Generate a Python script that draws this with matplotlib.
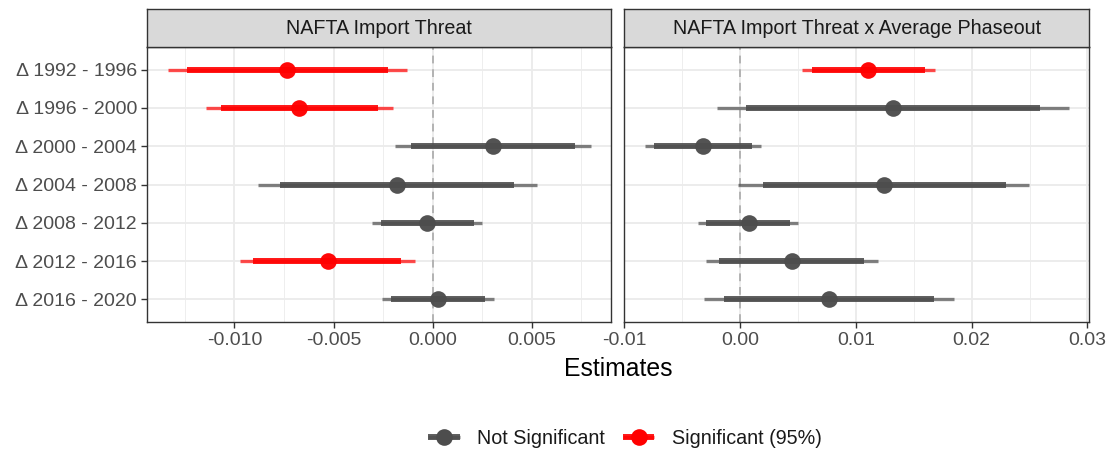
import matplotlib
matplotlib.use("Agg")
import matplotlib.pyplot as plt
from matplotlib.lines import Line2D
from matplotlib.legend_handler import HandlerTuple
import numpy as np

plt.rcParams['font.family'] = ['Liberation Sans', 'DejaVu Sans']

periods = ["Δ 1992 - 1996", "Δ 1996 - 2000", "Δ 2000 - 2004", "Δ 2004 - 2008",
           "Δ 2008 - 2012", "Δ 2012 - 2016", "Δ 2016 - 2020"]
panel_titles = ["NAFTA Import Threat", "NAFTA Import Threat x Average Phaseout"]

# NAFTA Import Threat
threat_est = [-0.00734, -0.00672, 0.00302, -0.00180, -0.00029, -0.00529, 0.00027]
threat_lo95 = [-0.01336, -0.01142, -0.00188, -0.00880, -0.00306, -0.00974, -0.00255]
threat_hi95 = [-0.00129, -0.00202, 0.00796, 0.00524, 0.00250, -0.00089, 0.00307]
threat_lo90 = [-0.01240, -0.01069, -0.00109, -0.00768, -0.00262, -0.00904, -0.00210]
threat_hi90 = [-0.00227, -0.00277, 0.00716, 0.00410, 0.00207, -0.00160, 0.00262]
threat_sig = [True, True, False, False, False, True, False]

# NAFTA Import Threat x Average Phaseout
phase_est = [0.01108, 0.01321, -0.00319, 0.01243, 0.00078, 0.00446, 0.00765]
phase_lo95 = [0.00535, -0.00196, -0.00817, -0.00020, -0.00360, -0.00296, -0.00308]
phase_hi95 = [0.01686, 0.02837, 0.00181, 0.02492, 0.00504, 0.01194, 0.01847]
phase_lo90 = [0.00624, 0.00052, -0.00740, 0.00199, -0.00291, -0.00178, -0.00135]
phase_hi90 = [0.01594, 0.02590, 0.00104, 0.02294, 0.00435, 0.01073, 0.01675]
phase_sig = [True, False, False, False, False, False, False]

legend_labels = ["Not Significant", "Significant (95%)"]

GREY = "#4D4D4D"
RED = "#FF0000"
BORDER = "#333333"
GRID = "#EBEBEB"
TICKTXT = "#4D4D4D"

W, H = 1109, 450
fig = plt.figure(figsize=(W / 100, H / 100), dpi=100)


def px_rect(x0, y0, x1, y1):
    return [x0 / W, 1 - y1 / H, (x1 - x0) / W, (y1 - y0) / H]


panels = [
    dict(rect=(146.7, 46.7, 611.0, 322.3),
         est=threat_est, lo95=threat_lo95, hi95=threat_hi95,
         lo90=threat_lo90, hi90=threat_hi90, sig=threat_sig,
         xlim=(-0.01442, 0.00899),
         major=[-0.010, -0.005, 0.000, 0.005],
         minor=[-0.0125, -0.0075, -0.0025, 0.0025, 0.0075],
         fmt="{:.3f}"),
    dict(rect=(624.3, 46.7, 1089.0, 322.3),
         est=phase_est, lo95=phase_lo95, hi95=phase_hi95,
         lo90=phase_lo90, hi90=phase_hi90, sig=phase_sig,
         xlim=(-0.00999, 0.03013),
         major=[-0.01, 0.00, 0.01, 0.02, 0.03],
         minor=[-0.005, 0.005, 0.015, 0.025],
         fmt="{:.2f}"),
]

ypos = np.arange(len(periods))

for i, p in enumerate(panels):
    x0, y0, x1, y1 = p["rect"]
    ax = fig.add_axes(px_rect(x0, y0, x1, y1))
    ax.set_xlim(*p["xlim"])
    ax.set_ylim(len(periods) - 0.4, -0.6)

    # grid
    for m in p["minor"]:
        ax.axvline(m, color=GRID, lw=0.6, zorder=0)
    for m in p["major"]:
        ax.axvline(m, color=GRID, lw=1.3, zorder=0)
    for y in ypos:
        ax.axhline(y, color=GRID, lw=1.3, zorder=0)
    ax.axvline(0, color="#B3B3B3", lw=1.4, ls=(0, (4, 3)), zorder=1)

    for y, e, l95, h95, l90, h90, s in zip(ypos, p["est"], p["lo95"], p["hi95"],
                                           p["lo90"], p["hi90"], p["sig"]):
        c = RED if s else GREY
        ax.plot([l95, h95], [y, y], color=c, lw=2.4, alpha=0.7,
                solid_capstyle="butt", zorder=2)
        ax.plot([l90, h90], [y, y], color=c, lw=4.3, alpha=0.9,
                solid_capstyle="butt", zorder=3)
        ax.plot([e], [y], marker="o", ms=12, color=c, mec="none",
                alpha=0.97, zorder=4)

    ax.set_xticks(p["major"])
    ax.set_xticklabels([p["fmt"].format(v) for v in p["major"]])
    ax.set_yticks(ypos)
    if i == 0:
        ax.set_yticklabels(periods)
    else:
        ax.set_yticklabels([])
    ax.tick_params(axis="both", colors=BORDER, labelcolor=TICKTXT,
                   labelsize=14, length=4, width=1.0, pad=3)
    if i == 1:
        ax.tick_params(axis="y", length=0)
    for sp in ax.spines.values():
        sp.set_color(BORDER)
        sp.set_linewidth(1.0)

    # facet strip
    sax = fig.add_axes(px_rect(x0, 9.0, x1, y0))
    sax.set_facecolor("#D9D9D9")
    sax.set_xticks([])
    sax.set_yticks([])
    for sp in sax.spines.values():
        sp.set_color(BORDER)
        sp.set_linewidth(1.0)
    sax.text(0.5, 0.47, panel_titles[i], ha="center", va="center",
             fontsize=14.2, color="#1A1A1A", transform=sax.transAxes)

fig.text(617.9 / W, 1 - 369 / H, "Estimates", ha="center", va="center",
         fontsize=17.8, color="black")

# legend
handles = []
for c in (GREY, RED):
    thin = Line2D([], [], color=c, lw=2.4, alpha=0.7, solid_capstyle="butt")
    thick = Line2D([], [], color=c, lw=4.3, alpha=0.9, solid_capstyle="butt")
    pt = Line2D([], [], color=c, marker="o", ms=12, lw=0, mec="none")
    handles.append((thin, thick, pt))
leg = fig.legend(handles, legend_labels, loc="center", ncol=2,
                 bbox_to_anchor=(625 / W, 1 - 438 / H), frameon=False,
                 fontsize=14.2, handlelength=1.6, handletextpad=0.9,
                 columnspacing=0.9,
                 handler_map={tuple: HandlerTuple(ndivide=1, pad=0)})
for t in leg.get_texts():
    t.set_color("#1A1A1A")

fig.savefig("out.png", dpi=100)
